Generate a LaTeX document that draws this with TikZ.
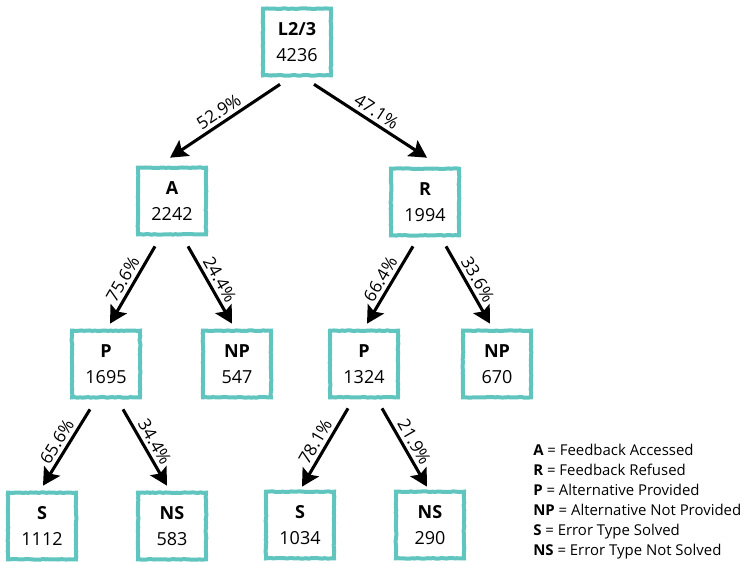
\documentclass[tikz,border=0pt]{standalone}
\usepackage{fontspec}
\setmainfont{Open Sans}
\usetikzlibrary{arrows.meta,calc,decorations.pathmorphing}
\definecolor{boxteal}{RGB}{96,196,191}
\tikzset{
  box/.style={draw=boxteal, line width=3pt, minimum width=51pt, minimum height=50pt,
    inner sep=0pt, align=center, font=\fontsize{13.5}{19}\selectfont,
    decorate, decoration={random steps,segment length=2pt,amplitude=0.25pt}},
  arr/.style={line width=2.3pt, -{Stealth[length=13pt,width=14pt,inset=2.5pt]}},
  pct/.style={font=\fontsize{13}{15}\selectfont, sloped, above, inner sep=2.5pt, midway},
  legend/.style={anchor=north west, align=left, inner sep=0pt, font=\fontsize{11.2}{15}\selectfont}
}
\begin{document}
\begin{tikzpicture}[x=0.75pt,y=-0.75pt]
\useasboundingbox (0,0) rectangle (748,562);
\node[box] (top) at (297,42) {\textbf{L2/3}\\4236};
\node[box] (A) at (172,201) {\textbf{A}\\2242};
\node[box] (R) at (425,202) {\textbf{R}\\1994};
\node[box] (P1) at (106,364) {\textbf{P}\\1695};
\node[box] (NP1) at (237,364) {\textbf{NP}\\547};
\node[box] (P2) at (364,364) {\textbf{P}\\1324};
\node[box] (NP2) at (497,364) {\textbf{NP}\\670};
\node[box] (S1) at (42,526) {\textbf{S}\\1112};
\node[box] (NS1) at (172,526) {\textbf{NS}\\583};
\node[box] (S2) at (300,525) {\textbf{S}\\1034};
\node[box] (NS2) at (430,525) {\textbf{NS}\\290};

\draw[arr] ($(top.south)+(-17,7)$) -- node[pct]{52.9\%} ($(A.north)+(-2,-8)$);
\draw[arr] ($(top.south)+(17,7)$) -- node[pct]{47.1\%} ($(R.north)+(2,-9)$);
\draw[arr] ($(A.south)+(-17,10)$) -- node[pct]{75.6\%} ($(P1.north)+(4,-5)$);
\draw[arr] ($(A.south)+(16,10)$) -- node[pct]{24.4\%} ($(NP1.north)+(-5,-5)$);
\draw[arr] ($(R.south)+(-12,9)$) -- node[pct]{66.4\%} ($(P2.north)+(3,-5)$);
\draw[arr] ($(R.south)+(21,9)$) -- node[pct]{33.6\%} ($(NP2.north)+(-7,-5)$);
\draw[arr] ($(P1.south)+(-16,10)$) -- node[pct]{65.6\%} ($(S1.north)+(1,-5)$);
\draw[arr] ($(P1.south)+(17,10)$) -- node[pct]{34.4\%} ($(NS1.north)+(-5,-5)$);
\draw[arr] ($(P2.south)+(-16,9)$) -- node[pct]{78.1\%} ($(S2.north)+(2,-3)$);
\draw[arr] ($(P2.south)+(18,9)$) -- node[pct]{21.9\%} ($(NS2.north)+(-3,-3)$);

\node[legend] (key) at (533,444) {\textbf{A} = Feedback Accessed\\
\textbf{R} = Feedback Refused\\
\textbf{P} = Alternative Provided\\
\textbf{NP} = Alternative Not Provided\\
\textbf{S} = Error Type Solved\\
\textbf{NS} = Error Type Not Solved};
\end{tikzpicture}
\end{document}
